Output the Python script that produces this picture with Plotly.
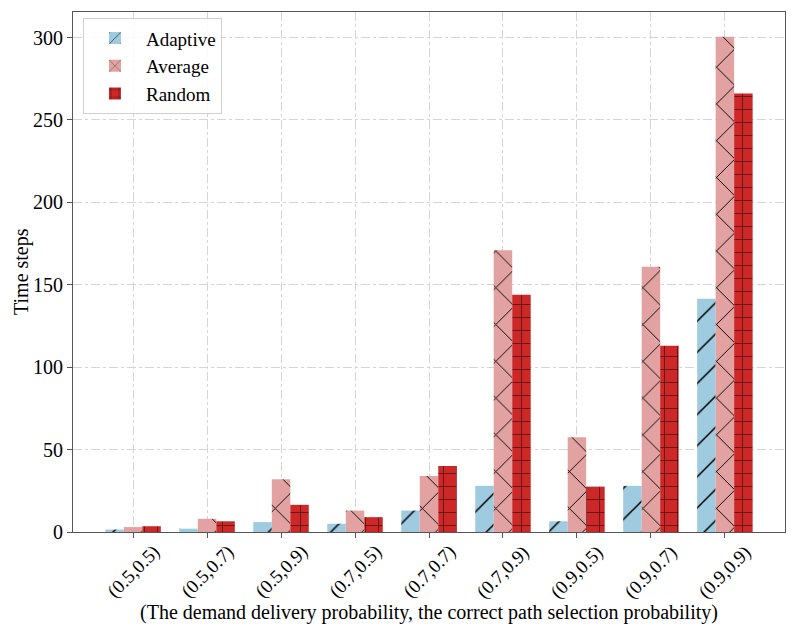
import plotly.graph_objects as go

categories = ["(0.5,0.5)", "(0.5,0.7)", "(0.5,0.9)", "(0.7,0.5)", "(0.7,0.7)",
              "(0.7,0.9)", "(0.9,0.5)", "(0.9,0.7)", "(0.9,0.9)"]
adaptive = [1.5, 2, 6, 5, 13, 28, 6.5, 28, 141.5]
average = [3, 8, 32, 13, 34, 171, 57.5, 161, 300.5]
random_ = [3.5, 6.5, 16.5, 9, 40, 144, 27.5, 113, 266]
y_ticks = [0, 50, 100, 150, 200, 250, 300]
x_title = "(The demand delivery probability, the correct path selection probability)"
y_title = "Time steps"

series = [
    ("Adaptive", adaptive, "#9ecbdf", "/", 22),
    ("Average", average, "#e3a2a2", "x", 26),
    ("Random", random_, "#cc2828", "+", 13),
]

fig = go.Figure()
for name, vals, color, shape, size in series:
    fig.add_trace(go.Bar(
        x=categories, y=vals, name=name,
        marker=dict(color=color, line=dict(width=0),
                    pattern=dict(shape=shape, fgcolor="black", fgopacity=1, bgcolor=color,
                                 size=size, solidity=0.07, fillmode="overlay")),
    ))

# rotated, centred category labels (like matplotlib rotation=45)
for c in categories:
    fig.add_annotation(x=c, y=0, xref="x", yref="paper", text=c, showarrow=False,
                       textangle=-45, xanchor="center", yanchor="top", yshift=-6,
                       font=dict(size=19))
fig.add_annotation(x=0.5, y=0, xref="paper", yref="paper", text=x_title, showarrow=False,
                   xanchor="center", yanchor="middle", yshift=-80, font=dict(size=20))
fig.add_annotation(x=0, y=0.5, xref="paper", yref="paper", text=y_title, showarrow=False,
                   textangle=-90, xanchor="center", yanchor="middle", xshift=-52,
                   font=dict(size=20))

font_family = "Liberation Serif, Times New Roman, serif"
fig.update_layout(
    width=797, height=638,
    margin=dict(l=65, r=20, t=4, b=114, autoexpand=False),
    paper_bgcolor="white", plot_bgcolor="white",
    barmode="group", bargap=0.25, bargroupgap=0,
    font=dict(family=font_family, size=20, color="black"),
    showlegend=True,
    legend=dict(x=0.014, y=0.988, xanchor="left", yanchor="top",
                bgcolor="rgba(255,255,255,0.85)", bordercolor="#d0d0d0", borderwidth=1,
                font=dict(size=19), itemwidth=52, tracegroupgap=0),
)
fig.update_xaxes(
    range=[-0.8125, 8.8125], automargin=False, showticklabels=False,
    showline=True, linecolor="#555555", linewidth=1.2, mirror=True,
    ticks="outside", ticklen=5, tickcolor="#555555",
    showgrid=True, gridcolor="#d5d5d5", griddash="dashdot", gridwidth=1,
)
fig.update_yaxes(
    range=[0, 315.5], tickvals=y_ticks, automargin=False,
    showline=True, linecolor="#555555", linewidth=1.2, mirror=True,
    ticks="outside", ticklen=5, tickcolor="#555555",
    showgrid=True, gridcolor="#d5d5d5", griddash="dashdot", gridwidth=1,
    zeroline=False, tickfont=dict(size=20),
)

fig.write_html("out.html")
